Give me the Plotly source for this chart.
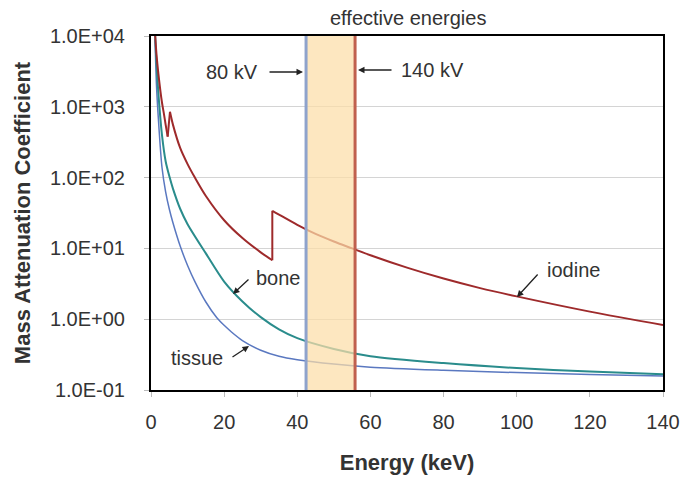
import plotly.graph_objects as go

# ---- data ----
tissue_energy = [1.1, 1.5, 2, 3, 4, 5, 6, 8, 10, 12, 15, 18, 20, 22, 25, 30, 35, 40, 50, 60, 80, 100, 120, 140]
tissue_mu = [9000, 2000, 700, 140, 63, 36, 23, 10.7, 5.75, 3.4, 1.75, 1.05, 0.82, 0.66, 0.5, 0.365, 0.3, 0.268, 0.232, 0.21, 0.19, 0.176, 0.166, 0.158]

bone_energy = [1.1, 1.5, 2, 3, 4, 5, 6, 8, 10, 15, 20, 25, 30, 35, 40, 50, 60, 80, 100, 120, 140]
bone_mu = [11000, 4000, 1600, 400, 170, 105, 70, 36, 22, 8.5, 3.4, 1.78, 1.07, 0.72, 0.54, 0.38, 0.30, 0.24, 0.204, 0.182, 0.167]

iodine_energy = [1.1, 1.5, 2, 3, 3.5, 4, 4.557, 5.188, 6, 8, 10, 12, 15, 20, 25, 30, 33.17, 33.17, 35, 40, 45, 50, 55, 60, 70, 80, 90, 100, 120, 140]
iodine_mu = [11000, 5500, 3000, 1150, 815, 560, 380, 850, 560, 260, 155, 100, 55, 25, 14, 8.8, 6.8, 34, 30, 21.5, 16, 12.5, 10.0, 8.0, 5.35, 3.75, 2.75, 2.1, 1.28, 0.83]

eff_energy_80kV = 42.4
eff_energy_140kV = 55.8

x_ticks = [0, 20, 40, 60, 80, 100, 120, 140]
y_tick_vals = [1e-1, 1e0, 1e1, 1e2, 1e3, 1e4]
y_tick_text = ["1.0E-01", "1.0E+00", "1.0E+01", "1.0E+02", "1.0E+03", "1.0E+04"]

FONT = "Liberation Sans, Arial, sans-serif"
TXT = "#333333"

fig = go.Figure()


def add_curve(energy, mu, color, width):
    # smooth the falling parts, draw absorption edges (rises) as straight jumps
    seg_x, seg_y = [energy[0]], [mu[0]]
    for i in range(1, len(energy)):
        if mu[i] > mu[i - 1]:
            fig.add_trace(go.Scatter(x=seg_x, y=seg_y, mode="lines", hoverinfo="skip",
                                     line=dict(color=color, width=width, shape="spline", smoothing=0.8)))
            fig.add_trace(go.Scatter(x=[energy[i - 1], energy[i]], y=[mu[i - 1], mu[i]], mode="lines",
                                     hoverinfo="skip", line=dict(color=color, width=width)))
            seg_x, seg_y = [], []
        seg_x.append(energy[i])
        seg_y.append(mu[i])
    fig.add_trace(go.Scatter(x=seg_x, y=seg_y, mode="lines", hoverinfo="skip",
                             line=dict(color=color, width=width, shape="spline", smoothing=0.8)))


add_curve(tissue_energy, tissue_mu, "#5a78c0", 1.5)
add_curve(bone_energy, bone_mu, "#2a8c8c", 2)
add_curve(iodine_energy, iodine_mu, "#9e2a2b", 2)

# effective energy band
fig.add_shape(type="rect", xref="x", yref="paper", x0=eff_energy_80kV, x1=eff_energy_140kV,
              y0=0, y1=1, fillcolor="rgba(252,222,168,0.72)", line=dict(width=0), layer="above")
fig.add_shape(type="line", xref="x", yref="paper", x0=eff_energy_80kV, x1=eff_energy_80kV,
              y0=0, y1=1, line=dict(color="#8fa3cc", width=3), layer="above")
fig.add_shape(type="line", xref="x", yref="paper", x0=eff_energy_140kV, x1=eff_energy_140kV,
              y0=0, y1=1, line=dict(color="#c0604e", width=3), layer="above")


def ann_text(x, ly, text):
    fig.add_annotation(x=x, y=ly, xref="x", yref="y", text=text, showarrow=False,
                       font=dict(family=FONT, size=20, color=TXT))


def ann_arrow(x, ly, ax, ay, head=2, size=1):
    fig.add_annotation(x=x, y=ly, xref="x", yref="y", text="", showarrow=True,
                       ax=ax, ay=ay, arrowhead=head, arrowsize=size, arrowwidth=1.3,
                       arrowcolor="#222222", standoff=0, startstandoff=0)


# pixel -> data helpers for annotation placement
X0, X1, PX0, PX1 = 0, 140, 151, 663
Y_TOP, Y_BOT, PY_TOP, PY_BOT = 4, -1, 36, 390


def dx(px):
    return X0 + (px - PX0) * (X1 - X0) / (PX1 - PX0)


def dy(py):
    return Y_TOP + (py - PY_TOP) * (Y_BOT - Y_TOP) / (PY_BOT - PY_TOP)


ann_text(dx(232), dy(72), "80 kV")
ann_arrow(dx(303), dy(72), -35, 0)
ann_text(dx(432), dy(70), "140 kV")
ann_arrow(dx(358), dy(70), 35, 0)
ann_text(dx(278), dy(278), "bone")
ann_arrow(dx(233), dy(294), 17, -16)
ann_text(dx(197), dy(358), "tissue")
ann_arrow(dx(249), dy(346), -18, 12)
ann_text(dx(573), dy(270), "iodine")
ann_arrow(dx(517), dy(297), 22, -24)

fig.add_annotation(x=dx(408), y=1.0, xref="x", yref="paper", yanchor="bottom",
                   yshift=5, text="effective energies", showarrow=False,
                   font=dict(family=FONT, size=20, color=TXT))

fig.update_layout(
    width=683, height=479,
    margin=dict(l=151, r=20, t=36, b=89, autoexpand=False),
    paper_bgcolor="white", plot_bgcolor="white",
    showlegend=False,
    font=dict(family=FONT, size=20, color=TXT),
)
fig.update_xaxes(range=[0, 140], tickvals=x_ticks, showgrid=False, zeroline=False,
                 automargin=False,
                 showline=True, mirror=True, linecolor="black", linewidth=2,
                 ticks="outside", ticklen=5, tickcolor="#bbbbbb",
                 ticklabelstandoff=8,
                 tickfont=dict(family=FONT, size=20, color=TXT),
                 title=dict(text="<b>Energy (keV)</b>", standoff=23,
                            font=dict(family=FONT, size=22, color=TXT)))
fig.update_yaxes(type="log", range=[-1, 4], tickvals=y_tick_vals, ticktext=y_tick_text,
                 automargin=False,
                 showgrid=True, gridcolor="#d4d4d4", gridwidth=1, zeroline=False,
                 showline=True, mirror=True, linecolor="black", linewidth=2,
                 ticks="outside", ticklen=5, tickcolor="#bbbbbb",
                 ticklabelstandoff=15,
                 tickfont=dict(family=FONT, size=20, color=TXT),
                 title=dict(text="<b>Mass Attenuation Coefficient</b>", standoff=13,
                            font=dict(family=FONT, size=22, color=TXT)))

# remove the browser's default 8px page margin so the figure fills the window exactly
fig.write_html("out.html", config={"displayModeBar": False},
               post_script="document.body.style.margin='0';document.body.style.overflow='hidden';")
